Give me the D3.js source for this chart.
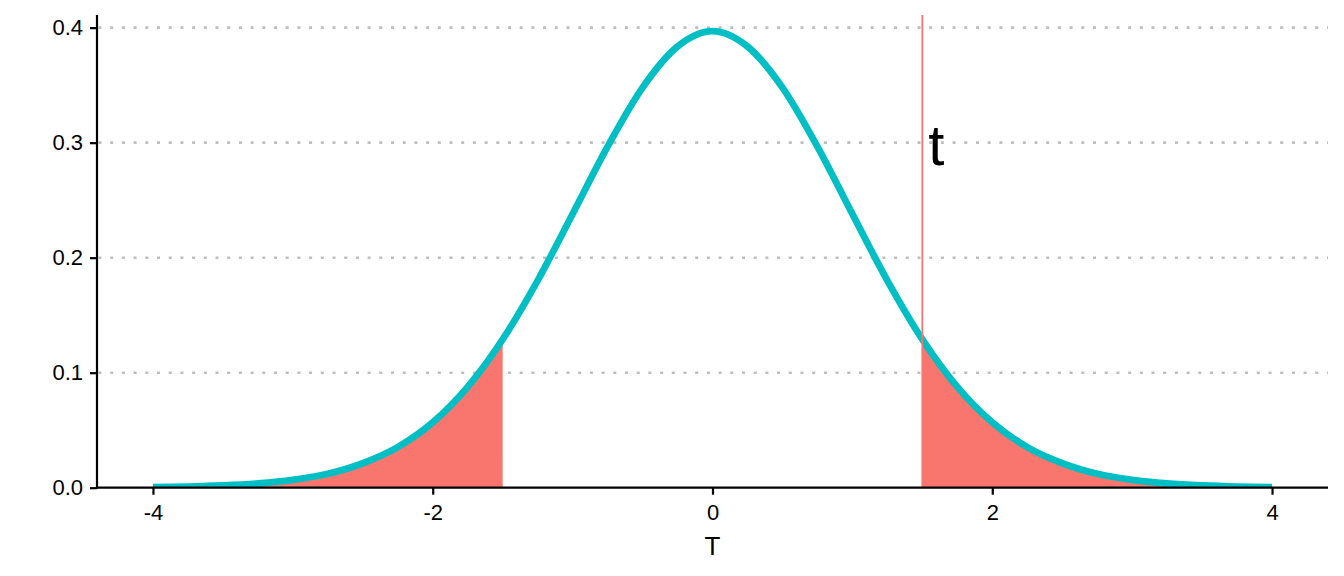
<!DOCTYPE html>
<html>
<head>
<meta charset="utf-8">
<script src="https://cdn.jsdelivr.net/npm/d3@7"></script>
<style>
  html, body { margin: 0; padding: 0; background: #fff; }
  svg { display: block; }
  text { font-family: "Liberation Sans", Arial, sans-serif; }
</style>
</head>
<body>
<svg id="chart" width="1344" height="576"></svg>
<script>
// ---- data ----
const xValues = [-4, -3.75, -3.5, -3.25, -3, -2.75, -2.5, -2.25, -2, -1.75, -1.5, -1.25, -1, -0.75, -0.5, -0.25,
                 0, 0.25, 0.5, 0.75, 1, 1.25, 1.5, 1.75, 2, 2.25, 2.5, 2.75, 3, 3.25, 3.5, 3.75, 4];
const densityValues = [0.0005, 0.0010, 0.0020, 0.0037, 0.0068, 0.0121, 0.0213, 0.0353, 0.0568, 0.0877, 0.1290, 0.1801, 0.2380, 0.2966, 0.3479, 0.3836,
                       0.3970, 0.3836, 0.3479, 0.2966, 0.2380, 0.1801, 0.1290, 0.0877, 0.0568, 0.0353, 0.0213, 0.0121, 0.0068, 0.0037, 0.0020, 0.0010, 0.0005];
const tValue = 1.5;
const tLabel = "t";
const tLabelX = 1.6;
const tLabelY = 0.3;
const xTicks = [-4, -2, 0, 2, 4];
const xTickLabels = ["-4", "-2", "0", "2", "4"];
const yTicks = [0.0, 0.1, 0.2, 0.3, 0.4];
const yTickLabels = ["0.0", "0.1", "0.2", "0.3", "0.4"];
const xTitle = "T";

// ---- layout ----
const W = 1344, H = 576;
const margin = { left: 97, right: 16, top: 15, bottom: 88.3 };
const pw = W - margin.left - margin.right;
const ph = H - margin.top - margin.bottom;

const svg = d3.select("#chart");
const x = d3.scaleLinear().domain([-4.4, 4.4]).range([margin.left, margin.left + pw]);
const y = d3.scaleLinear().domain([0, 0.411]).range([margin.top + ph, margin.top]);

const pts = xValues.map((v, i) => ({ x: v, y: densityValues[i] }));

svg.append("defs").append("clipPath").attr("id", "panel")
  .append("rect").attr("x", margin.left).attr("y", margin.top).attr("width", pw).attr("height", ph);

// grid lines
svg.append("g").selectAll("line").data(yTicks.filter(d => d > 0)).join("line")
  .attr("x1", margin.left + 1.5).attr("x2", margin.left + pw)
  .attr("y1", d => y(d)).attr("y2", d => y(d))
  .attr("stroke", "#BEBEBE").attr("stroke-width", 2.6)
  .attr("stroke-dasharray", "3 8.7");

const panel = svg.append("g").attr("clip-path", "url(#panel)");

// shaded tails
const area = d3.area().x(d => x(d.x)).y0(y(0)).y1(d => y(d.y)).curve(d3.curveMonotoneX);
panel.append("path").datum(pts.filter(d => d.x <= -tValue))
  .attr("d", area).attr("fill", "#F8766D");
panel.append("path").datum(pts.filter(d => d.x >= tValue))
  .attr("d", area).attr("fill", "#F8766D");

// density curve
const line = d3.line().x(d => x(d.x)).y(d => y(d.y)).curve(d3.curveMonotoneX);
panel.append("path").datum(pts)
  .attr("d", line).attr("fill", "none")
  .attr("stroke", "#00BFC4").attr("stroke-width", 6.8)
  .attr("stroke-linejoin", "round").attr("stroke-linecap", "butt");

// vertical line at t
panel.append("line")
  .attr("x1", x(tValue)).attr("x2", x(tValue))
  .attr("y1", margin.top).attr("y2", margin.top + ph)
  .attr("stroke", "#F8766D").attr("stroke-width", 1.8);

// label
svg.append("text")
  .attr("x", x(tLabelX)).attr("y", y(tLabelY) + 22.5)
  .attr("text-anchor", "middle")
  .attr("font-size", 58).attr("fill", "#000")
  .text(tLabel);

// axes
const xAxis = svg.append("g").attr("transform", `translate(0,${margin.top + ph})`)
  .call(d3.axisBottom(x).tickValues(xTicks).tickFormat((d, i) => xTickLabels[i]).tickSize(7).tickPadding(10));
const yAxis = svg.append("g").attr("transform", `translate(${margin.left},0)`)
  .call(d3.axisLeft(y).tickValues(yTicks).tickFormat((d, i) => yTickLabels[i]).tickSize(7).tickPadding(7));

[xAxis, yAxis].forEach(g => {
  g.select(".domain").remove();
  g.selectAll(".tick line").attr("stroke", "#000").attr("stroke-width", 2.2);
  g.selectAll(".tick text").attr("fill", "#000").attr("font-size", 22)
    .style("font-family", '"Liberation Sans", Arial, sans-serif');
});

// axis lines
svg.append("line")
  .attr("x1", margin.left).attr("x2", margin.left + pw)
  .attr("y1", margin.top + ph).attr("y2", margin.top + ph)
  .attr("stroke", "#000").attr("stroke-width", 2.2);
svg.append("line")
  .attr("x1", margin.left).attr("x2", margin.left)
  .attr("y1", margin.top).attr("y2", margin.top + ph + 1.1)
  .attr("stroke", "#000").attr("stroke-width", 2.2);

// x title
svg.append("text")
  .attr("x", x(0)).attr("y", 555)
  .attr("text-anchor", "middle")
  .attr("font-size", 26).attr("fill", "#000")
  .text(xTitle);
</script>
</body>
</html>
